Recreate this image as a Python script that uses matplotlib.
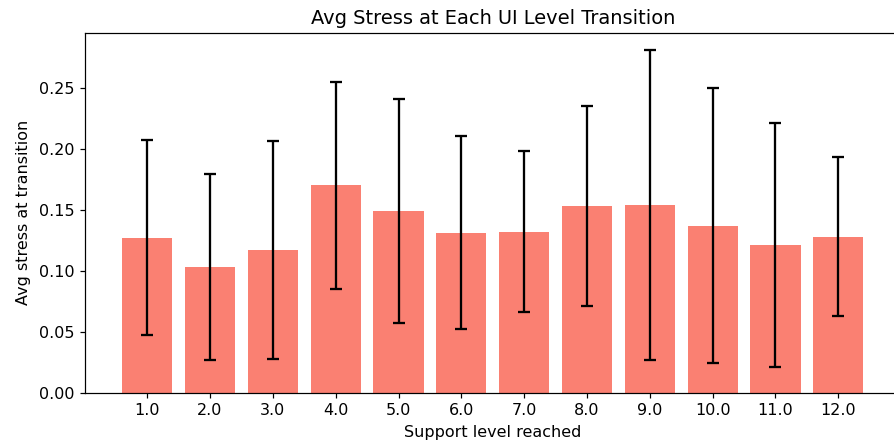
import numpy as np
import matplotlib.pyplot as plt

levels = [1.0, 2.0, 3.0, 4.0, 5.0, 6.0, 7.0, 8.0, 9.0, 10.0, 11.0, 12.0]
avg_stress = [0.127, 0.103, 0.117, 0.170, 0.149, 0.131, 0.132, 0.153, 0.154, 0.137, 0.121, 0.128]
std_stress = [0.080, 0.076, 0.089, 0.085, 0.092, 0.079, 0.066, 0.082, 0.127, 0.113, 0.100, 0.065]

plt.rcParams['font.size'] = 10.5

fig = plt.figure(figsize=(894 / 110, 446 / 110), dpi=110)
ax = fig.add_axes([85 / 894, (446 - 392.7) / 446, (900.5 - 85) / 894, (392.7 - 32.7) / 446])

ax.bar(levels, avg_stress, yerr=std_stress, color="salmon", capsize=4,
       error_kw={"elinewidth": 1.5, "capthick": 1.5})
ax.set_xticks(levels)
ax.set_xticklabels([str(l) for l in levels])
ax.set_xlabel("Support level reached")
ax.set_ylabel("Avg stress at transition", labelpad=5)
ax.set_title("Avg Stress at Each UI Level Transition", fontsize=12.7)

fig.savefig("out.png", dpi=110)
